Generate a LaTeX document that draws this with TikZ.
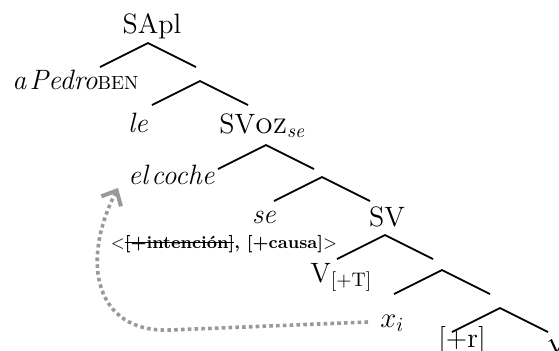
\documentclass[tikz,border=0pt]{standalone}
\usetikzlibrary{arrows.meta}
\newcommand\tachado[1]{\setbox0\hbox{#1}\rlap{\rule[0.6ex]{\wd0}{0.5pt}}\box0}

\begin{document}
\begin{tikzpicture}[
	x=0.5pt, y=-0.5pt,
	font=\fontsize{14}{16}\selectfont,
	lab/.style={inner sep=0pt, anchor=base},
	labw/.style={inner sep=0pt, anchor=base west},
	labe/.style={inner sep=0pt, anchor=base east},
	feat/.style={inner sep=0pt, anchor=base, font=\fontsize{8.7}{10}\selectfont},
	branch/.style={line width=0.9pt},
	trace/.style={draw=black!40, line width=1.8pt, dash pattern=on 1.8pt off 1.6pt,
		-{Straight Barb[length=6pt,width=11pt,line width=2pt]}},
	]
\useasboundingbox (0,0) rectangle (559,350);
\clip (0,0) rectangle (559,350);

\foreach \n/\x/\y in {1/148/43,2/200/81,3/266/145,4/322/177,5/385/235,6/442/270,7/500/308}
{
	\coordinate (b\n) at (\x,\y);
	\coordinate (b\n-l) at (\x-48,\y+24);
	\coordinate (b\n-r) at (\x+48,\y+24);
	\draw[branch] (b\n-l) -- (b\n) -- (b\n-r);
}

\node[lab] (sapl) at (152,33) {SApl};
\node[labw] (pedro) at (12,89) {\textit{a\hspace{0.12em}Pedro}{\fontsize{9.5}{10}\selectfont BEN}};
\node[lab] (le) at (138,132) {\textit{le}};
\node[labw] (svoz) at (219,133) {SV\textsc{oz}\textsubscript{\textit{se}}};
\node[labe] (coche) at (215,184) {\textit{el\hspace{0.12em}coche}};
\node[lab] (se) at (264,223) {\textit{se}};
\node[feat] (rasgos) at (224,248) {\textless\textbf{\tachado{[+intención]}, [+causa]}\textgreater};
\node[lab] (sv) at (387,226) {SV};
\node[labw] (v) at (310,282) {V\textsubscript{[+T]}};
\node[labw] (xi) at (380,327) {$x_i$};
\node[lab] (rasgo) at (462,347) {[+r]};
\node[labw] (raiz) at (546,347) {$\surd$};

\coordinate (xi-tail) at (368,322);
\coordinate (turn) at (170,330);
\coordinate (coche-foot) at (118,188);
\draw[trace] (xi-tail) -- (turn) .. controls (95,333) and (80,262) .. (coche-foot);
\end{tikzpicture}
\end{document}
